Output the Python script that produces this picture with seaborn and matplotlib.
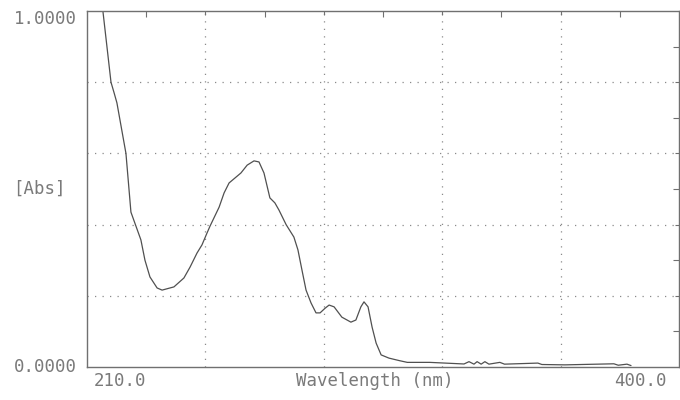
import numpy as np
import pandas as pd
import matplotlib
matplotlib.use("Agg")
import matplotlib.pyplot as plt
from matplotlib.ticker import FixedLocator
import seaborn as sns

# Absorbance spectrum
wavelength = [215.1, 217.7, 218.7, 219.6, 222.5, 223.5, 224.1, 225.7, 227.3, 228.6,
              230.2, 232.5, 234.1, 237.9, 241.1, 243.1, 245.3, 246.9, 248.5, 249.5,
              252.4, 254.0, 255.6, 257.5, 259.4, 261.4, 263.6, 265.2, 266.8, 268.7,
              270.3, 271.6, 273.9, 276.4, 277.7, 279.0, 280.3, 281.9, 283.5, 284.8,
              286.4, 287.7, 289.3, 291.8, 294.7, 296.3, 297.9, 298.9, 300.2, 301.5,
              302.8, 304.4, 306.9, 310.2, 312.8, 320.0, 331.0, 332.6, 334.2, 335.2,
              336.5, 337.7, 339.0, 342.5, 344.0, 354.7, 356.0, 363.4, 379.1, 380.5,
              383.3, 384.6]
absorbance = [1.000, 0.800, 0.770, 0.742, 0.600, 0.497, 0.435, 0.396, 0.357, 0.300,
              0.253, 0.222, 0.216, 0.225, 0.250, 0.281, 0.320, 0.343, 0.376, 0.396,
              0.449, 0.489, 0.517, 0.531, 0.545, 0.567, 0.579, 0.576, 0.545, 0.475,
              0.461, 0.441, 0.400, 0.365, 0.329, 0.272, 0.216, 0.180, 0.152, 0.152,
              0.165, 0.174, 0.169, 0.140, 0.126, 0.132, 0.169, 0.183, 0.169, 0.112,
              0.067, 0.034, 0.025, 0.018, 0.013, 0.013, 0.0085, 0.015, 0.008, 0.015,
              0.008, 0.015, 0.008, 0.013, 0.008, 0.011, 0.007, 0.006, 0.009, 0.005,
              0.008, 0.004]

x_min, x_max = 210.0, 400.0
y_min, y_max = 0.0, 1.0
x_grid = [248.0, 286.0, 324.0, 362.0]
x_minor = [229.0, 267.0, 305.0, 343.0, 381.0]
y_grid = [0.2, 0.4, 0.6, 0.8]
y_minor = [0.1, 0.3, 0.5, 0.7, 0.9]

df = pd.DataFrame({"Wavelength": wavelength, "Abs": absorbance})

sns.set_style("white")
plt.rcParams["font.family"] = ["DejaVu Sans Mono"]

text_col = "#7a7a7a"
line_col = "#505050"
frame_col = "#707070"

fig = plt.figure(figsize=(6.8, 4.0), dpi=100)
ax = fig.add_axes([87 / 680, 33 / 400, 592 / 680, 356 / 400])

sns.lineplot(data=df, x="Wavelength", y="Abs", ax=ax, color=line_col,
             linewidth=0.9, sort=False)

ax.set_xlim(x_min, x_max)
ax.set_ylim(y_min, y_max)

# dotted grid at the major positions, short inward ticks halfway between
ax.xaxis.set_major_locator(FixedLocator(x_grid))
ax.xaxis.set_minor_locator(FixedLocator(x_minor))
ax.yaxis.set_major_locator(FixedLocator(y_grid))
ax.yaxis.set_minor_locator(FixedLocator(y_minor))
ax.grid(True, which="major", color="#8a8a8a", linestyle=(0, (1, 5)), linewidth=0.9)
ax.tick_params(which="both", direction="in", top=True, right=True,
               labelbottom=False, labelleft=False, color=frame_col, width=0.8)
ax.tick_params(which="major", length=3)
ax.tick_params(which="minor", length=4)

for s in ax.spines.values():
    s.set_color(frame_col)
    s.set_linewidth(1.0)

ax.set_xlabel("")
ax.set_ylabel("")

fs = 12.5
fig.text(45 / 680, 1 - 19 / 400, "1.0000", ha="center", va="center", fontsize=fs, color=text_col)
fig.text(45 / 680, 1 - 367 / 400, "0.0000", ha="center", va="center", fontsize=fs, color=text_col)
fig.text(39 / 680, 1 - 189 / 400, "[Abs]", ha="center", va="center", fontsize=fs, color=text_col)
fig.text(120 / 680, 1 - 381 / 400, "210.0", ha="center", va="center", fontsize=fs, color=text_col)
fig.text(375 / 680, 1 - 381 / 400, "Wavelength (nm)", ha="center", va="center", fontsize=fs, color=text_col)
fig.text(640 / 680, 1 - 381 / 400, "400.0", ha="center", va="center", fontsize=fs, color=text_col)

fig.savefig("out.png", dpi=100)
